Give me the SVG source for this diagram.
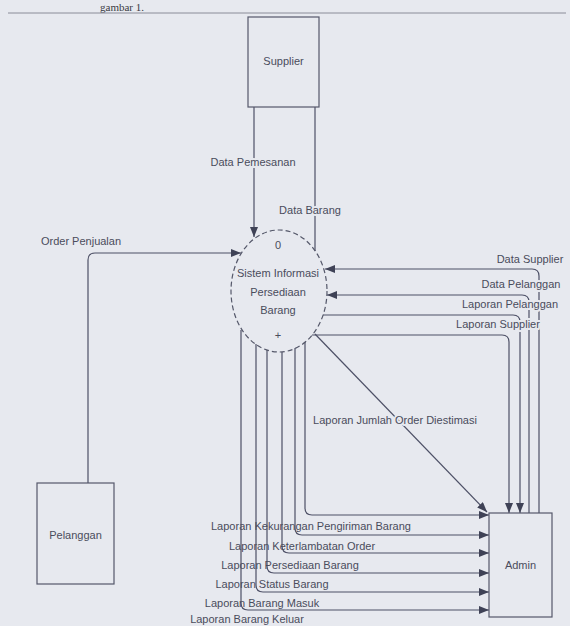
<svg xmlns="http://www.w3.org/2000/svg" width="570" height="626" viewBox="0 0 570 626">
<style>
.bg{fill:#e7e9ef}
.box{fill:none;stroke:#55586a;stroke-width:1.2}
.proc{fill:none;stroke:#55586a;stroke-width:1.2;stroke-dasharray:5 3}
.flow{fill:none;stroke:#4d5066;stroke-width:1.2}
.t{font-family:"Liberation Sans",Arial,sans-serif;font-size:11px;fill:#4a4c5c}
.c{text-anchor:middle}
.halo{stroke:#e7e9ef;stroke-width:4;paint-order:stroke;stroke-linejoin:round}
.head{font-family:"Liberation Serif","Times New Roman",serif;font-size:11px;fill:#3a3a44}
</style>
<defs>
<marker id="arr" markerUnits="userSpaceOnUse" markerWidth="10" markerHeight="8" refX="10" refY="4" orient="auto">
<path d="M0,0 L10,4 L0,8 z" fill="#3f4256"/>
</marker>
</defs>
<rect class="bg" x="0" y="0" width="570" height="626"/>
<text class="head" x="100" y="11">gambar 1.</text>
<line x1="8" y1="13" x2="566" y2="13" stroke="#8a8c98" stroke-width="1"/>

<g id="connectors">
<path class="flow" d="M254,107 V237" marker-end="url(#arr)"/>
<path class="flow" d="M315,251 V107"/>
<path class="flow" d="M88,483 V260 Q88,253 95,253 H241" marker-end="url(#arr)"/>
<path class="flow" d="M539,513 V276 Q539,269 532,269 H325" marker-end="url(#arr)"/>
<path class="flow" d="M529,513 V302 Q529,295 522,295 H327" marker-end="url(#arr)"/>
<path class="flow" d="M323,315 H513 Q520,315 520,322 V513" marker-end="url(#arr)"/>
<path class="flow" d="M312,335 H502 Q509,335 509,342 V513" marker-end="url(#arr)"/>
<path class="flow" d="M315,334 L487,512" marker-end="url(#arr)"/>
<path class="flow" d="M305,342 V508 Q305,515 312,515 H489" marker-end="url(#arr)"/>
<path class="flow" d="M295,348 V528 Q295,535 302,535 H489" marker-end="url(#arr)"/>
<path class="flow" d="M282,352 V546 Q282,553 289,553 H489" marker-end="url(#arr)"/>
<path class="flow" d="M267,350 V566 Q267,573 274,573 H489" marker-end="url(#arr)"/>
<path class="flow" d="M256,344 V585 Q256,592 263,592 H489" marker-end="url(#arr)"/>
<path class="flow" d="M241,330 V603 Q241,610 248,610 H489" marker-end="url(#arr)"/>

<text class="t c halo" x="253" y="166">Data Pemesanan</text>
<text class="t c halo" x="310" y="214">Data Barang</text>
<text class="t c" x="81" y="245">Order Penjualan</text>
<text class="t c halo" x="530" y="263">Data Supplier</text>
<text class="t c halo" x="521" y="288">Data Pelanggan</text>
<text class="t c halo" x="510" y="308">Laporan Pelanggan</text>
<text class="t c halo" x="498" y="328">Laporan Supplier</text>
<text class="t c halo" x="395" y="424">Laporan Jumlah Order Diestimasi</text>
<text class="t c" x="311" y="530">Laporan Kekurangan Pengiriman Barang</text>
<text class="t c" x="302" y="550">Laporan Keterlambatan Order</text>
<text class="t c" x="290" y="569">Laporan Persediaan Barang</text>
<text class="t c" x="272" y="588">Laporan Status Barang</text>
<text class="t c" x="262" y="607">Laporan Barang Masuk</text>
<text class="t c" x="247" y="623">Laporan Barang Keluar</text>
</g>

<g id="supplier">
<rect class="box" x="248" y="17" width="71" height="90"/>
<text class="t c" x="283.5" y="65">Supplier</text>
</g>

<g id="process">
<ellipse class="proc" cx="279" cy="291" rx="48" ry="61"/>
<text class="t c" x="278" y="249">0</text>
<text class="t c" x="278" y="277">Sistem Informasi</text>
<text class="t c" x="278" y="296">Persediaan</text>
<text class="t c" x="278" y="314">Barang</text>
<text class="t c" x="278" y="339">+</text>
</g>

<g id="pelanggan">
<rect class="box" x="37" y="483" width="77" height="101"/>
<text class="t c" x="75.5" y="539">Pelanggan</text>
</g>

<g id="admin">
<rect class="box" x="489" y="513" width="63" height="104"/>
<text class="t c" x="520.5" y="569">Admin</text>
</g>
</svg>
